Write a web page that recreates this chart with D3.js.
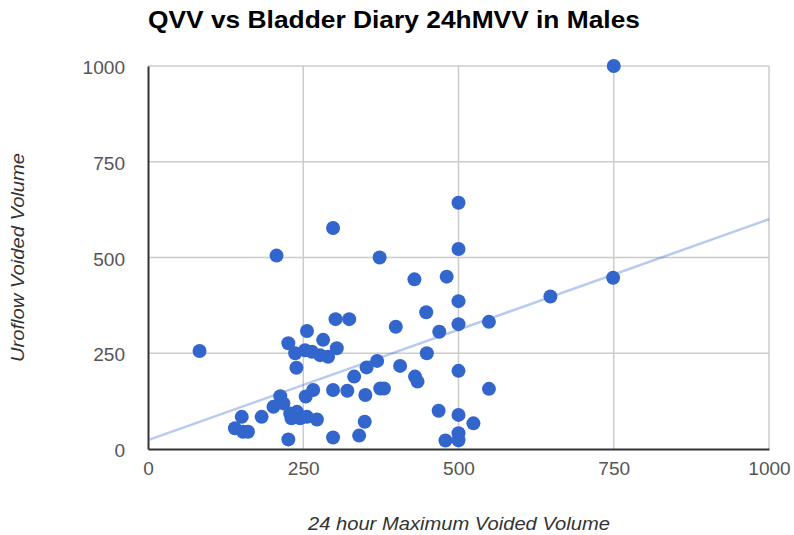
<!DOCTYPE html>
<html>
<head>
<meta charset="utf-8">
<script src="https://cdn.jsdelivr.net/npm/d3@7"></script>
<style>
  body { margin: 0; background: #fff; }
  text { font-family: "Liberation Sans", Arial, sans-serif; }
</style>
</head>
<body>
<svg id="chart" width="794" height="535"></svg>
<script>
// 24 hour maximum voided volume (x) vs uroflow voided volume (y)
var mvv = [83, 207, 298, 500, 500, 373, 429, 481, 500, 648, 749, 750,
    448, 302, 324, 399, 500, 549, 469, 256, 282, 226, 304, 253, 264, 277,
    290, 237, 449, 369, 352, 406, 239, 332, 430, 434, 500, 374, 380, 350,
    298, 321, 266, 254, 549, 213, 202, 218, 183, 151, 140, 153, 161, 229,
    240, 231, 245, 256, 272, 226, 298, 340, 468, 500, 349, 524, 479, 500, 500];
var qvv = [256, 505, 577, 643, 522, 500, 443, 450, 386, 398, 447, 1000,
    357, 339, 339, 319, 326, 332, 306, 308, 285, 276, 263, 258, 254, 245,
    241, 250, 250, 230, 213, 217, 212, 189, 189, 176, 204, 158, 158, 141,
    154, 152, 154, 137, 157, 138, 110, 119, 84, 84, 54, 45, 45, 93,
    97, 80, 80, 84, 77, 25, 30, 35, 100, 89, 71, 67, 22, 41, 23];
var ticks = [0, 250, 500, 750, 1000];
var trendX = [0, 1000];
var trendY = [23, 600];

var svg = d3.select("#chart");
var margin = { top: 66, right: 25, bottom: 86, left: 148 };
var width = 794 - margin.left - margin.right,
    height = 535 - margin.top - margin.bottom;

var x = d3.scaleLinear().domain([0, 1000]).range([0, width]);
var y = d3.scaleLinear().domain([0, 1000]).range([height, 0]);

var g = svg.append("g")
    .attr("transform", "translate(" + margin.left + "," + margin.top + ")");

// gridlines
g.append("g").selectAll("line")
    .data(ticks.slice(1))
    .enter().append("line")
    .attr("x1", d => x(d)).attr("x2", d => x(d))
    .attr("y1", 0).attr("y2", height)
    .attr("stroke", "#cccccc").attr("stroke-width", 1.5);
g.append("g").selectAll("line")
    .data(ticks.slice(1))
    .enter().append("line")
    .attr("x1", 0).attr("x2", width)
    .attr("y1", d => y(d)).attr("y2", d => y(d))
    .attr("stroke", "#cccccc").attr("stroke-width", 1.5);

// axes
var xAxis = g.append("g")
    .attr("transform", "translate(0," + height + ")")
    .call(d3.axisBottom(x).tickValues(ticks).tickFormat(d3.format("d")).tickSize(0).tickPadding(13));
var yAxis = g.append("g")
    .call(d3.axisLeft(y).tickValues(ticks).tickFormat(d3.format("d")).tickSize(0).tickPadding(23));
[xAxis, yAxis].forEach(a => {
    a.select(".domain").attr("stroke", "#333").attr("stroke-width", 2);
    a.selectAll("text").attr("fill", "#555").style("font-size", "19px")
        .style("font-family", "'Liberation Sans', Arial, sans-serif");
});
yAxis.selectAll("text").attr("dy", "0.4em").attr("textLength", function () {
    return this.textContent.length * 10.6;
}).attr("lengthAdjust", "spacingAndGlyphs");
xAxis.selectAll("text").attr("textLength", function () {
    return this.textContent.length * 10.6;
}).attr("lengthAdjust", "spacingAndGlyphs");

// trend line
g.append("line")
    .attr("x1", x(trendX[0])).attr("y1", y(trendY[0]))
    .attr("x2", x(trendX[1])).attr("y2", y(trendY[1]))
    .attr("stroke", "#3366cc")
    .attr("stroke-opacity", 0.35)
    .attr("stroke-width", 2.5);

// points
g.append("g").selectAll("circle")
    .data(mvv.map((d, i) => [d, qvv[i]]))
    .enter().append("circle")
    .attr("cx", d => x(d[0]))
    .attr("cy", d => y(d[1]))
    .attr("r", 7)
    .attr("fill", "#3366cc");

// titles
svg.append("text")
    .attr("x", 148).attr("y", 28)
    .attr("font-weight", "bold")
    .style("font-size", "24px")
    .attr("textLength", 492)
    .attr("lengthAdjust", "spacingAndGlyphs")
    .attr("fill", "#000")
    .text("QVV vs Bladder Diary 24hMVV in Males");

svg.append("text")
    .attr("x", 308).attr("y", 530)
    .attr("font-style", "italic")
    .style("font-size", "17.5px")
    .attr("textLength", 302)
    .attr("lengthAdjust", "spacingAndGlyphs")
    .attr("fill", "#333")
    .text("24 hour Maximum Voided Volume");

svg.append("text")
    .attr("transform", "translate(24,362) rotate(-90)")
    .attr("font-style", "italic")
    .style("font-size", "17.5px")
    .attr("textLength", 209)
    .attr("lengthAdjust", "spacingAndGlyphs")
    .attr("fill", "#333")
    .text("Uroflow Voided Volume");
</script>
</body>
</html>
